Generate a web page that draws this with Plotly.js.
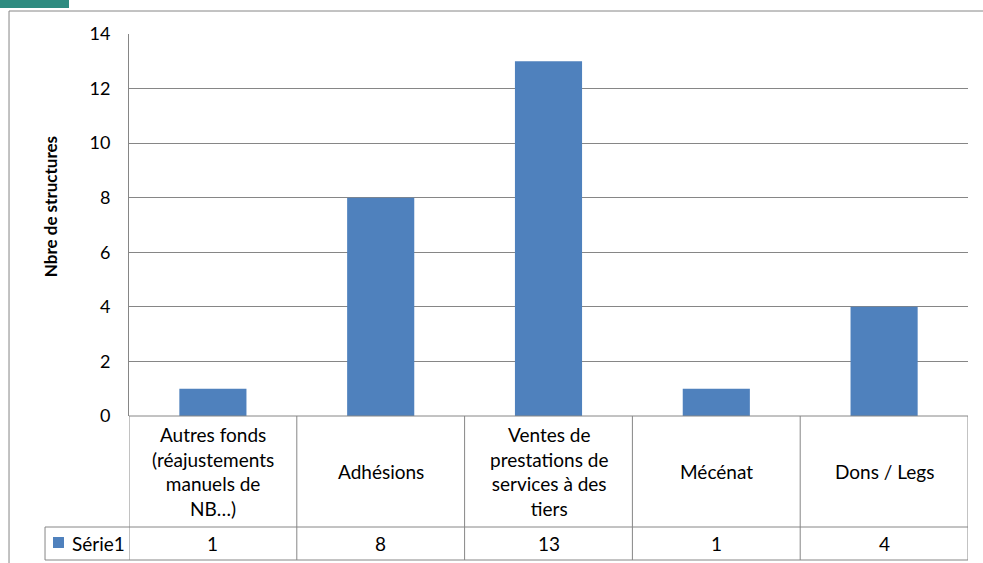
<!DOCTYPE html>
<html>
<head>
<meta charset="utf-8">
<script src="https://cdn.plot.ly/plotly-3.0.1.min.js"></script>
<style>html,body{margin:0;padding:0;background:#fff;}#chart{width:983px;height:563px;}</style>
</head>
<body>
<div id="chart"></div>
<script>
// ---- data ----
const categories = [
  "Autres fonds (réajustements manuels de NB…)",
  "Adhésions",
  "Ventes de prestations de services à des tiers",
  "Mécénat",
  "Dons / Legs"
];
const values = [1, 8, 13, 1, 4];
const seriesName = "Série1";
const yTitle = "Nbre de structures";
const yTickValues = [0, 2, 4, 6, 8, 10, 12, 14];

// ---- styles ----
const FONT = "Lato, 'Open Sans', sans-serif";
const BAR = "#4f81bd";
const GRID = "#868686";
const TXT = "#000000";

function wrap(s, max) {
  const words = s.split(" ");
  const lines = [];
  let cur = "";
  words.forEach(w => {
    if (cur === "") cur = w;
    else if ((cur + " " + w).length <= max) cur += " " + w;
    else { lines.push(cur); cur = w; }
  });
  if (cur) lines.push(cur);
  return lines.join("<br>");
}

const n = categories.length;
const xs = categories.map((c, i) => i);

// table geometry in paper coords
const rowSplit = -0.2906, tableBottom = -0.377, leftCol = -0.1001;
const lineStyle = {color: GRID, width: 1};

const shapes = [];
// vertical cell borders
for (let i = 0; i <= n; i++) {
  shapes.push({type: "line", xref: "x", yref: "paper", x0: i - 0.5, x1: i - 0.5, y0: tableBottom, y1: 0, line: lineStyle});
}
// top border of table (axis line)
shapes.push({type: "line", xref: "x", yref: "paper", x0: -0.5, x1: n - 0.5, y0: 0, y1: 0, line: lineStyle});
// row lines spanning label column
shapes.push({type: "line", xref: "paper", yref: "paper", x0: leftCol, x1: 1, y0: rowSplit, y1: rowSplit, line: lineStyle});
shapes.push({type: "line", xref: "paper", yref: "paper", x0: leftCol, x1: 1, y0: tableBottom, y1: tableBottom, line: lineStyle});
shapes.push({type: "line", xref: "paper", yref: "paper", x0: leftCol, x1: leftCol, y0: tableBottom, y1: rowSplit, line: lineStyle});
// legend key
shapes.push({type: "rect", xref: "paper", yref: "paper", x0: -0.0906, x1: -0.0775, y0: -0.3455, y1: -0.3168, fillcolor: BAR, line: {width: 0}});
// outer chart border (top & left)
shapes.push({type: "line", xref: "paper", yref: "paper", x0: -0.143, x1: 1.03, y0: 1.0602, y1: 1.0602, line: lineStyle});
shapes.push({type: "line", xref: "paper", yref: "paper", x0: -0.143, x1: -0.143, y0: 1.0602, y1: -0.5, line: lineStyle});
// teal corner tab
shapes.push({type: "rect", xref: "paper", yref: "paper", x0: -0.16, x1: -0.0715, y0: 1.068, y1: 1.1, fillcolor: "#2e8b80", line: {width: 0}});

const annotations = [];
categories.forEach((c, i) => {
  annotations.push({xref: "x", yref: "paper", x: i, y: (0 + rowSplit) / 2, text: wrap(c, 14), showarrow: false,
    xanchor: "center", yanchor: "middle", align: "center", font: {family: FONT, size: 19, color: TXT}});
  annotations.push({xref: "x", yref: "paper", x: i, y: (rowSplit + tableBottom) / 2, text: String(values[i]), showarrow: false,
    xanchor: "center", yanchor: "middle", font: {family: FONT, size: 19, color: TXT}});
});
annotations.push({xref: "paper", yref: "paper", x: -0.0703, y: (rowSplit + tableBottom) / 2, text: seriesName, showarrow: false,
  xanchor: "left", yanchor: "middle", font: {family: FONT, size: 19, color: TXT}});
annotations.push({xref: "paper", yref: "paper", x: -0.094, y: 0.547, text: "<b>" + yTitle + "</b>", showarrow: false,
  textangle: -90, xanchor: "center", yanchor: "middle", font: {family: FONT, size: 17, color: TXT}});

const trace = {
  type: "bar",
  x: xs,
  y: values,
  name: seriesName,
  marker: {color: BAR},
  hoverinfo: "skip"
};

const layout = {
  width: 983, height: 563,
  margin: {l: 129, r: 15, t: 34, b: 147, pad: 0},
  paper_bgcolor: "#ffffff", plot_bgcolor: "#ffffff",
  showlegend: false,
  bargap: 0.6,
  font: {family: FONT, color: TXT},
  xaxis: {range: [-0.5, n - 0.5], showticklabels: false, showgrid: false, zeroline: false, showline: false, ticks: "", fixedrange: true},
  yaxis: {range: [0, 14], tickvals: yTickValues, showgrid: true, gridcolor: GRID, gridwidth: 1, zeroline: false,
    showline: true, linecolor: GRID, linewidth: 1, ticks: "", ticklabelstandoff: 14,
    tickfont: {family: FONT, size: 18, color: TXT}, fixedrange: true},
  shapes: shapes,
  annotations: annotations
};

Plotly.newPlot("chart", [trace], layout, {displayModeBar: false, staticPlot: true});
</script>
</body>
</html>
